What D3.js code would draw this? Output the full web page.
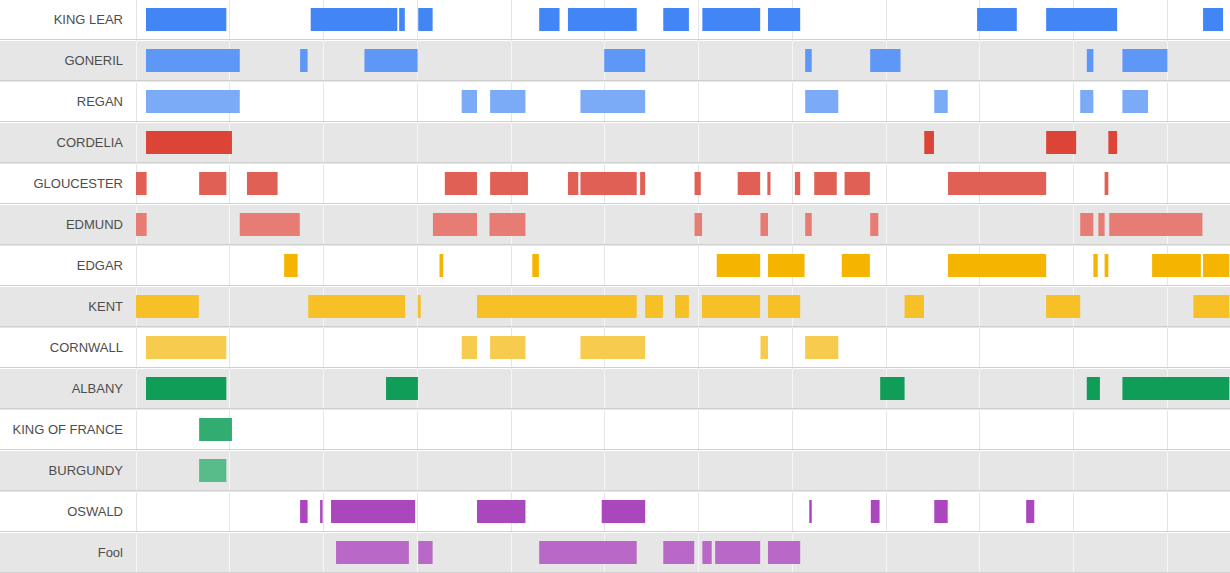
<!DOCTYPE html>
<html>
<head>
<meta charset="utf-8">
<script src="https://cdn.jsdelivr.net/npm/d3@7"></script>
<style>
  html, body { margin: 0; padding: 0; background: #fff; }
  svg { display: block; }
</style>
</head>
<body>
<svg id="chart" width="1230" height="573"></svg>
<script>
// ---- data (units: line position in the play) ----
const characters = ["KING LEAR","GONERIL","REGAN","CORDELIA","GLOUCESTER","EDMUND","EDGAR","KENT","CORNWALL","ALBANY","KING OF FRANCE","BURGUNDY","OSWALD","Fool"];
const kingLear = [[32,289],[559,836],[842,860],[903,949],[1290,1355],[1382,1602],[1687,1769],[1812,1997],[2022,2125],[2691,2818],[2912,3139],[3414,3478]];
const goneril = [[32,332],[525,549],[731,901],[1498,1629],[2141,2162],[2349,2446],[3042,3063],[3156,3300]];
const regan = [[32,332],[1042,1091],[1133,1246],[1422,1629],[2141,2247],[2554,2597],[3021,3063],[3156,3238]];
const cordelia = [[32,307],[2522,2553],[2912,3008],[3111,3139]];
const gloucester = [[0,34],[202,289],[355,453],[988,1091],[1133,1254],[1382,1415],[1422,1602],[1613,1629],[1787,1807],[1925,1997],[2020,2030],[2108,2125],[2170,2242],[2267,2348],[2598,2912],[3099,3111]];
const edmund = [[0,34],[332,524],[950,1091],[1131,1246],[1787,1811],[1998,2022],[2141,2162],[2349,2375],[3021,3063],[3079,3099],[3114,3412]];
const edgar = [[474,517],[971,983],[1268,1289],[1858,1997],[2022,2139],[2258,2348],[2598,2912],[3063,3077],[3099,3111],[3251,3407],[3414,3498]];
const kent = [[0,201],[551,861],[901,911],[1091,1602],[1629,1686],[1725,1769],[1811,1997],[2022,2125],[2459,2521],[2912,3021],[3383,3498]];
const cornwall = [[32,289],[1042,1091],[1133,1246],[1422,1629],[1998,2022],[2141,2247]];
const albany = [[32,289],[800,902],[2381,2459],[3042,3084],[3156,3498]];
const kingOfFrance = [[202,307]];
const burgundy = [[202,289]];
const oswald = [[525,549],[589,597],[624,893],[1091,1246],[1490,1629],[2154,2162],[2351,2379],[2554,2597],[2848,2874]];
const fool = [[640,873],[903,949],[1290,1602],[1687,1786],[1812,1842],[1853,1997],[2022,2125]];
const spans = [kingLear, goneril, regan, cordelia, gloucester, edmund, edgar, kent, cornwall, albany, kingOfFrance, burgundy, oswald, fool];
const gridTicks = [0,300,600,900,1200,1500,1800,2100,2400,2700,3000,3300];
const domainMax = 3497;

// ---- palette ----
const colors = ["#4285f4","#5e97f6","#7baaf7","#db4437","#e06055","#e67c73","#f4b400","#f6c026","#f7cb4d","#0f9d58","#33ac71","#57bb8a","#ab47bc","#ba68c8"];

// ---- layout ----
const W = 1230, rowH = 41, plotLeft = 136, plotRight = 1229, labelRight = 123;
const barTop = 8, barH = 23;

const svg = d3.select("#chart");
const x = d3.scaleLinear().domain([0, domainMax]).range([plotLeft, plotRight]);
const y = d3.scaleBand().domain(characters).range([0, rowH * characters.length]).padding(0);

// row backgrounds
svg.append("g").selectAll("rect").data(characters).join("rect")
  .attr("x", 0).attr("y", d => y(d)).attr("width", W).attr("height", rowH)
  .attr("fill", (d, i) => i % 2 ? "#e6e6e6" : "#ffffff");

// vertical grid lines (per row, colour depends on row background)
const gridG = svg.append("g");
characters.forEach((c, i) => {
  gridG.selectAll(null).data(gridTicks).join("line")
    .attr("x1", t => Math.floor(x(t)) + 0.5).attr("x2", t => Math.floor(x(t)) + 0.5)
    .attr("y1", y(c)).attr("y2", y(c) + rowH)
    .attr("stroke", i % 2 ? "#f6f6f6" : "#e6e6e6").attr("stroke-width", 1);
});

// row separators
svg.append("g").selectAll("rect").data(characters).join("rect")
  .attr("x", 0).attr("y", d => y(d) + rowH - 2).attr("width", W).attr("height", 1)
  .attr("fill", "#d0d0d0");

// labels
svg.append("g").selectAll("text").data(characters).join("text")
  .attr("x", labelRight).attr("y", d => y(d) + 24)
  .attr("text-anchor", "end")
  .attr("font-family", "'Liberation Sans', Arial, sans-serif")
  .attr("font-size", 13)
  .attr("fill", "#4d4d4d")
  .text(d => d);

// bars
characters.forEach((c, i) => {
  svg.append("g").selectAll("rect").data(spans[i]).join("rect")
    .attr("x", d => x(d[0])).attr("width", d => x(d[1]) - x(d[0]))
    .attr("y", y(c) + barTop).attr("height", barH)
    .attr("fill", colors[i]);
});
</script>
</body>
</html>
